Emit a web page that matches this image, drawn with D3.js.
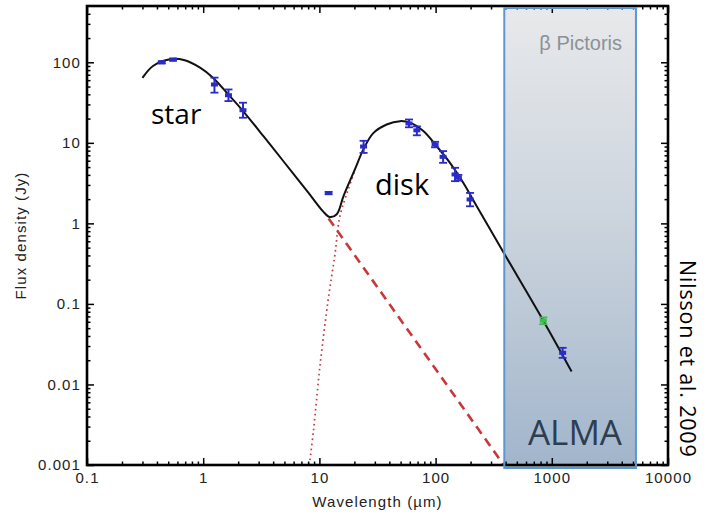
<!DOCTYPE html>
<html>
<head>
<meta charset="utf-8">
<script src="https://cdn.jsdelivr.net/npm/d3@7/dist/d3.min.js"></script>
<style>
  body { margin: 0; background: #fff; }
  svg { display: block; }
</style>
</head>
<body>
<script>
const width = 704;
const height = 515;

// total model, star + disk (um, Jy)
const modelWave = [0.30, 0.37, 0.52, 0.68, 0.94, 1.22, 1.64, 2.14, 3.3, 5.0, 8.0, 10.8, 12.3, 14.1, 16.1, 20.2, 23.9, 29.1, 37.9, 49.4, 60.2, 78.4, 102, 133, 173, 226, 390, 845, 1480];
const modelFlux = [64, 90, 109, 107, 86, 64, 40, 26, 12.1, 5.7, 2.43, 1.40, 1.2, 1.3, 2.17, 4.67, 8.3, 13.2, 16.9, 18.6, 17.8, 14.0, 9.1, 5.65, 3.19, 1.63, 0.42, 0.062, 0.0145];

// stellar photosphere (dashed)
const starWave = [12, 390];
const starFlux = [1.15, 0.00098];

// disk component (dotted)
const diskWave = [8.2, 8.9, 10.1, 11.9, 13.6, 15.0, 17.7, 20.2];
const diskFlux = [0.001, 0.0027, 0.0167, 0.113, 0.41, 1.22, 2.63, 4.5];

// photometry with error bars
const photWave = [0.44, 0.55, 1.25, 1.65, 2.2, 12, 24, 59, 69, 99, 116, 147, 157, 198, 1240];
const photFlux = [100, 108, 53, 39, 25.4, 2.38, 9.0, 17.4, 14.3, 9.5, 6.7, 4.05, 3.7, 1.98, 0.0247];
const photLow  = [97, 105, 42, 33, 20.5, 2.3, 7.5, 15.6, 12.4, 8.8, 5.65, 3.34, 3.4, 1.63, 0.0214];
const photHigh = [103, 111, 64.5, 46, 31.5, 2.46, 10.6, 19.5, 16.0, 10.3, 7.9, 4.9, 4.0, 2.39, 0.0285];

// 850 um point (green)
const subWave = [845];
const subFlux = [0.062];
const subLow = [0.056];
const subHigh = [0.068];

// ALMA window
const almaRange = [390, 5300];

const xTicks = [0.1, 1, 10, 100, 1000, 10000];
const xTickLabels = ["0.1", "1", "10", "100", "1000", "10000"];
const yTicks = [0.001, 0.01, 0.1, 1, 10, 100];
const yTickLabels = ["0.001", "0.01", "0.1", "1", "10", "100"];

const x = d3.scaleLog().domain([0.1, 10000]).range([87, 668]);
const y = d3.scaleLog().domain([0.001, 500]).range([465, 6]);

function minors(domain) {
  const out = [];
  for (let e = Math.floor(Math.log10(domain[0])); e < Math.ceil(Math.log10(domain[1])); e++) {
    for (let k = 2; k <= 9; k++) {
      const v = k * Math.pow(10, e);
      if (v > domain[0] && v < domain[1]) out.push(v);
    }
  }
  return out;
}

const svg = d3.select("body").append("svg")
  .attr("width", width)
  .attr("height", height);

const plotBottom = y.range()[0], plotTop = y.range()[1];
const plotLeft = x.range()[0], plotRight = x.range()[1];

const defs = svg.append("defs");
defs.append("clipPath").attr("id", "plot")
  .append("rect")
  .attr("x", plotLeft).attr("y", plotTop)
  .attr("width", plotRight - plotLeft)
  .attr("height", plotBottom - plotTop);

const grad = defs.append("linearGradient")
  .attr("id", "almaFill")
  .attr("x1", 0).attr("y1", 0).attr("x2", 0).attr("y2", 1);
grad.append("stop").attr("offset", "0%").attr("stop-color", "#e8e9eb");
grad.append("stop").attr("offset", "50%").attr("stop-color", "#c9d2dc");
grad.append("stop").attr("offset", "100%").attr("stop-color", "#a1b5cb");

// ALMA box fill
const boxTop = plotTop + 2;
const boxBottom = plotBottom + 3;
svg.append("rect")
  .attr("x", x(almaRange[0]))
  .attr("y", boxTop)
  .attr("width", x(almaRange[1]) - x(almaRange[0]))
  .attr("height", boxBottom - boxTop)
  .attr("fill", "url(#almaFill)");

const plot = svg.append("g").attr("clip-path", "url(#plot)");

const line = d3.line()
  .x(d => x(d[0]))
  .y(d => y(d[1]));

plot.append("path")
  .datum(diskWave.map((w, i) => [w, diskFlux[i]]))
  .attr("d", line.curve(d3.curveCatmullRom))
  .attr("fill", "none")
  .attr("stroke", "#c43a3a")
  .attr("stroke-width", 1.7)
  .attr("stroke-dasharray", "1.6,3.4");

plot.append("path")
  .datum(starWave.map((w, i) => [w, starFlux[i]]))
  .attr("d", line.curve(d3.curveLinear))
  .attr("fill", "none")
  .attr("stroke", "#c8383a")
  .attr("stroke-width", 2.6)
  .attr("stroke-dasharray", "9,6");

plot.append("path")
  .datum(modelWave.map((w, i) => [w, modelFlux[i]]))
  .attr("d", line.curve(d3.curveCatmullRom))
  .attr("fill", "none")
  .attr("stroke", "#111")
  .attr("stroke-width", 2);

function errorBars(wave, flux, lo, hi, color) {
  const g = svg.append("g").attr("stroke", color).attr("fill", color);
  const pts = g.selectAll("g").data(wave.map((w, i) => ({w, f: flux[i], lo: lo[i], hi: hi[i]})))
    .join("g");
  pts.append("line")
    .attr("x1", d => x(d.w)).attr("x2", d => x(d.w))
    .attr("y1", d => y(d.lo)).attr("y2", d => y(d.hi))
    .attr("stroke-width", 2);
  pts.append("line")
    .attr("x1", d => x(d.w) - 4).attr("x2", d => x(d.w) + 4)
    .attr("y1", d => y(d.lo)).attr("y2", d => y(d.lo))
    .attr("stroke-width", 1.8);
  pts.append("line")
    .attr("x1", d => x(d.w) - 4).attr("x2", d => x(d.w) + 4)
    .attr("y1", d => y(d.hi)).attr("y2", d => y(d.hi))
    .attr("stroke-width", 1.8);
  pts.append("rect")
    .attr("x", d => x(d.w) - 3.5).attr("y", d => y(d.f) - 2)
    .attr("width", 7).attr("height", 4)
    .attr("stroke", "none");
}
errorBars(photWave, photFlux, photLow, photHigh, "#2b2bc8");
errorBars(subWave, subFlux, subLow, subHigh, "#3dbb4c");

// frame
svg.append("rect")
  .attr("x", plotLeft).attr("y", plotTop)
  .attr("width", plotRight - plotLeft)
  .attr("height", plotBottom - plotTop)
  .attr("fill", "none")
  .attr("stroke", "#000")
  .attr("stroke-width", 2.6);

const tickFont = "'Liberation Sans', Arial, sans-serif";

function styleAxis(g) {
  g.select(".domain").remove();
  g.selectAll(".tick line").attr("stroke", "#000").attr("stroke-width", 1.5);
  g.selectAll("text")
    .attr("font-family", tickFont)
    .attr("font-size", 15)
    .attr("letter-spacing", 1.1)
    .attr("fill", "#222");
}

svg.append("g").attr("transform", `translate(0,${plotBottom})`)
  .call(d3.axisBottom(x).tickValues(xTicks).tickSize(-7).tickPadding(7)
    .tickFormat((d, i) => xTickLabels[i]))
  .call(styleAxis);
svg.append("g").attr("transform", `translate(0,${plotBottom})`)
  .call(d3.axisBottom(x).tickValues(minors(x.domain())).tickSize(-3.5).tickFormat(""))
  .call(styleAxis);
svg.append("g").attr("transform", `translate(0,${plotTop})`)
  .call(d3.axisTop(x).tickValues(xTicks).tickSize(-7).tickFormat(""))
  .call(styleAxis);
svg.append("g").attr("transform", `translate(0,${plotTop})`)
  .call(d3.axisTop(x).tickValues(minors(x.domain())).tickSize(-3.5).tickFormat(""))
  .call(styleAxis);

svg.append("g").attr("transform", `translate(${plotLeft},0)`)
  .call(d3.axisLeft(y).tickValues(yTicks).tickSize(-7).tickPadding(6)
    .tickFormat((d, i) => yTickLabels[i]))
  .call(styleAxis);
svg.append("g").attr("transform", `translate(${plotLeft},0)`)
  .call(d3.axisLeft(y).tickValues(minors(y.domain())).tickSize(-3.5).tickFormat(""))
  .call(styleAxis);
svg.append("g").attr("transform", `translate(${plotRight},0)`)
  .call(d3.axisRight(y).tickValues(yTicks).tickSize(-7).tickFormat(""))
  .call(styleAxis);
svg.append("g").attr("transform", `translate(${plotRight},0)`)
  .call(d3.axisRight(y).tickValues(minors(y.domain())).tickSize(-3.5).tickFormat(""))
  .call(styleAxis);

// ALMA box outline
svg.append("rect")
  .attr("x", x(almaRange[0]))
  .attr("y", boxTop)
  .attr("width", x(almaRange[1]) - x(almaRange[0]))
  .attr("height", boxBottom - boxTop)
  .attr("fill", "none")
  .attr("stroke", "#5d97d2")
  .attr("stroke-width", 2);

// axis titles
svg.append("text")
  .attr("x", (plotLeft + plotRight) / 2)
  .attr("y", 507)
  .attr("text-anchor", "middle")
  .attr("font-family", tickFont)
  .attr("font-size", 15)
  .attr("letter-spacing", 1.1)
  .attr("fill", "#222")
  .text("Wavelength (µm)");

svg.append("text")
  .attr("transform", `translate(26,${(plotTop + plotBottom) / 2}) rotate(-90)`)
  .attr("text-anchor", "middle")
  .attr("font-family", tickFont)
  .attr("font-size", 15)
  .attr("letter-spacing", 1.1)
  .attr("fill", "#222")
  .text("Flux density (Jy)");

// annotations
const noteFont = "'Open Sans', sans-serif";

svg.append("text")
  .attr("x", 151).attr("y", 124)
  .attr("font-family", noteFont).attr("font-size", 28)
  .attr("fill", "#000")
  .text("star");

svg.append("text")
  .attr("x", 375).attr("y", 195)
  .attr("font-family", noteFont).attr("font-size", 29)
  .attr("fill", "#000")
  .text("disk");

svg.append("text")
  .attr("x", 622).attr("y", 50)
  .attr("text-anchor", "end")
  .attr("font-family", tickFont).attr("font-size", 20)
  .attr("fill", "#8c9196")
  .text("β Pictoris");

svg.append("text")
  .attr("x", 622).attr("y", 445)
  .attr("text-anchor", "end")
  .attr("font-family", noteFont).attr("font-size", 35)
  .attr("fill", "#2d3d52")
  .text("ALMA");

svg.append("text")
  .attr("transform", "translate(680,260) rotate(90)")
  .attr("font-family", noteFont).attr("font-size", 21.5)
  .attr("letter-spacing", 0.8)
  .attr("fill", "#000")
  .text("Nilsson et al. 2009");
</script>
</body>
</html>
